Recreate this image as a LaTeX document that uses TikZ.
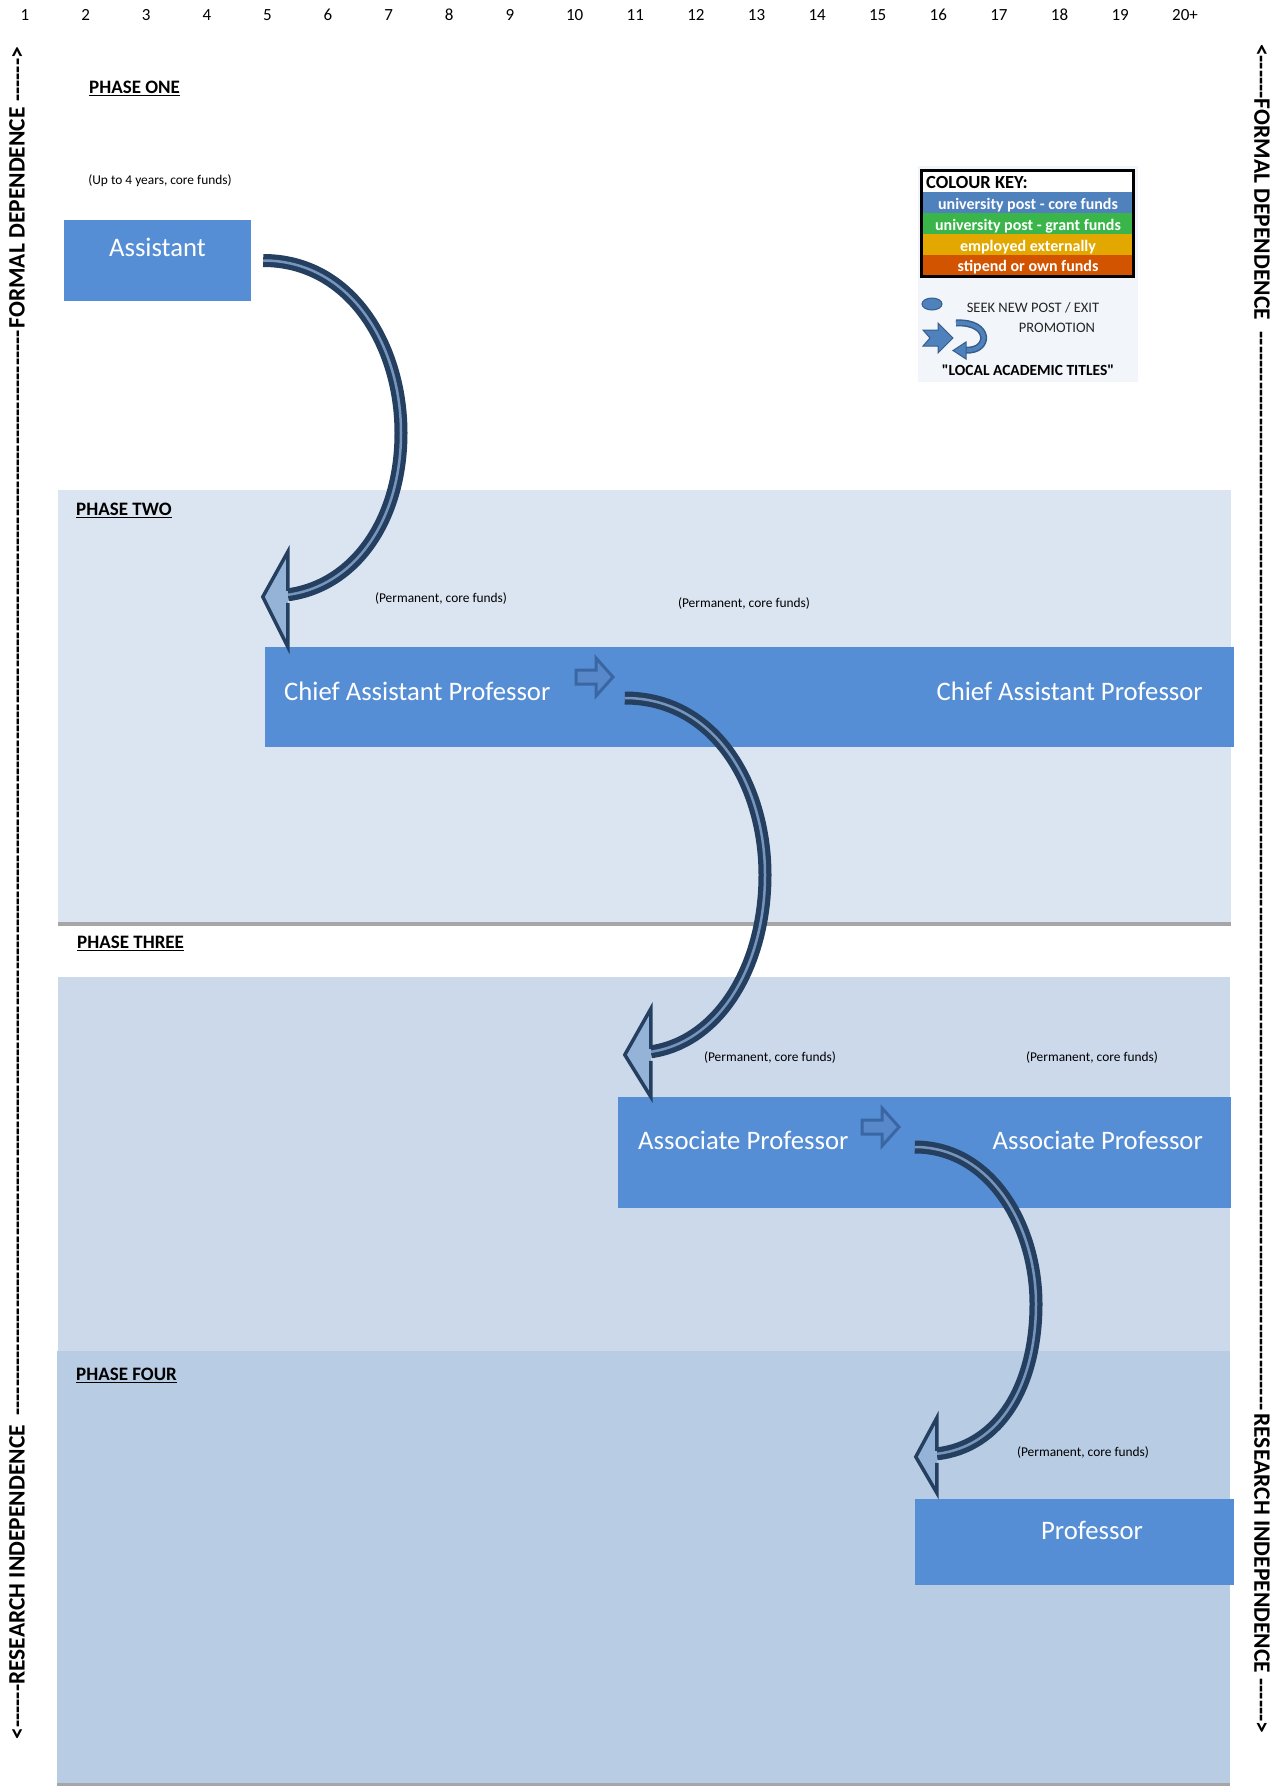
\documentclass[tikz,border=0pt]{standalone}
\usepackage{fontspec}
\setmainfont{Carlito}[Ligatures=TeXOff]
\usetikzlibrary{shapes.geometric}
\definecolor{boxblue}{HTML}{558ED5}
\definecolor{bandtwo}{HTML}{DBE5F1}
\definecolor{bandthree}{HTML}{CBD9EA}
\definecolor{bandfour}{HTML}{B8CCE4}
\definecolor{rulegrey}{HTML}{A6A6A6}
\definecolor{arrowdark}{HTML}{243F60}
\definecolor{arrowlight}{HTML}{7794BB}
\definecolor{headfill}{HTML}{95B3D7}
\definecolor{blockedge}{HTML}{3A67A3}
\definecolor{blockfill}{HTML}{5888CA}
\definecolor{keybg}{HTML}{F2F5FA}
\definecolor{keyblue}{HTML}{4F81BD}
\definecolor{keygreen}{HTML}{3AB54A}
\definecolor{keygold}{HTML}{E2A800}
\definecolor{keyorange}{HTML}{D35400}
\definecolor{icondark}{HTML}{385D8A}
\newcommand\phaseul[1]{\vtop{\hbox{#1}\kern1.4pt\hrule height 1.8pt}}
\newcommand\curvehead[4]{%
  \filldraw[headstyle] ([shift={(#2,-6)}]#1) -- ([shift={(#2,-#3)}]#1) -- (#1)
    -- ([shift={(#2,#4)}]#1) -- ([shift={(#2,6)}]#1);}
\tikzset{
  rolebox/.style={fill=boxblue, draw=none, inner sep=0pt},
  roletext/.style={text=white, font=\fontsize{26.7}{30}\selectfont, inner sep=0pt},
  notetext/.style={font=\fontsize{13.4}{15}\selectfont, inner sep=0pt},
  phasetext/.style={font=\bfseries\fontsize{19}{22}\selectfont, inner sep=0pt, anchor=base west},
  numtext/.style={font=\fontsize{17}{20}\selectfont, inner sep=0pt, anchor=west},
  sidetext/.style={font=\bfseries\fontsize{23.5}{26}\selectfont, inner sep=0pt},
  shaft/.style={draw=arrowlight, line width=2.5pt, preaction={draw=arrowdark, line width=13pt}},
  headstyle/.style={fill=headfill, draw=arrowdark, line width=3.5pt, line join=miter},
  keyrow/.style={minimum width=210pt, minimum height=21.5pt, inner sep=0pt},
  keytext/.style={text=white, font=\bfseries\fontsize{16}{18}\selectfont, inner sep=0pt, anchor=base},
  blockarrow/.pic={\filldraw[fill=blockfill, draw=blockedge, line width=3pt, line join=miter]
    (0,-7) -- (20,-7) -- (20,-19) -- (37,0) -- (20,19) -- (20,7) -- (0,7) -- cycle;}
}
\begin{document}
\begin{tikzpicture}[x=1pt, y=-1pt]
\useasboundingbox (0,0) rectangle (1287,1786);
\fill[white] (0,0) rectangle (1287,1786);
% bands
\fill[bandtwo] (58,490) rectangle (1231,924);
\draw[rulegrey, line width=4pt] (58,924) -- (1231,924);
\fill[bandthree] (58,977) rectangle (1230,1351);
\fill[bandfour] (57,1351) rectangle (1230,1786);
\draw[rulegrey, line width=3pt] (57,1784.5) -- (1230,1784.5);
% year numbers
\foreach \i in {1,...,19} \node[numtext] (n\i) at ({20.5+(\i-1)*60.6},15) {\i};
\node[numtext] (n20) at (1172,15) {20+};
% side labels
\node[sidetext, rotate=90] (leftside) at (17,893)
  {\hbox to 1693pt{<------RESEARCH INDEPENDENCE \leaders\hbox{-}\hfill FORMAL DEPENDENCE ------>}};
\node[sidetext, rotate=-90] (rightside) at (1262,889)
  {\hbox to 1690pt{<------FORMAL DEPENDENCE \leaders\hbox{-}\hfill RESEARCH INDEPENDENCE ------>}};
% phase labels
\node[phasetext] (p1) at (89,93) {\phaseul{PHASE ONE}};
\node[phasetext] (p2) at (76,515) {\phaseul{PHASE TWO}};
\node[phasetext] (p3) at (77,948) {\phaseul{PHASE THREE}};
\node[phasetext] (p4) at (76,1380) {\phaseul{PHASE FOUR}};
% role boxes
\node[rolebox, minimum width=187pt, minimum height=81pt] (asst) at (157.5,260.5) {};
\node[rolebox, minimum width=969pt, minimum height=100pt] (chief) at (749.5,697) {};
\node[rolebox, minimum width=613pt, minimum height=111pt] (assoc) at (924.5,1152.5) {};
\node[rolebox, minimum width=319pt, minimum height=86pt] (prof) at (1074.5,1542) {};
\node[roletext, anchor=base] (tasst) at (157.5,256) {Assistant};
\node[roletext, anchor=base west] (tchief1) at (284,700) {Chief Assistant Professor};
\node[roletext, anchor=base east] (tchief2) at (1203,700) {Chief Assistant Professor};
\node[roletext, anchor=base west] (tassoc1) at (638,1149) {Associate Professor};
\node[roletext, anchor=base east] (tassoc2) at (1203,1149) {Associate Professor};
\node[roletext, anchor=base] (tprof) at (1092,1539) {Professor};
% notes
\node[notetext] (nasst) at (160,181) {(Up to 4 years, core funds)};
\node[notetext] (nchief1) at (441,599) {(Permanent, core funds)};
\node[notetext] (nchief2) at (744,604) {(Permanent, core funds)};
\node[notetext] (nassoc1) at (770,1058) {(Permanent, core funds)};
\node[notetext] (nassoc2) at (1092,1058) {(Permanent, core funds)};
\node[notetext] (nprof) at (1083,1453) {(Permanent, core funds)};
% small block arrows
\pic at (576,677) {blockarrow};
\pic at (862,1127) {blockarrow};
% curved promotion arrows
\coordinate (a1s) at ([shift={(12,0)}]asst.east);
\coordinate (m1) at (401,433);
\coordinate (t1) at ([shift={(-2,-50)}]chief.north west);
\coordinate (e1) at ([shift={(25,-2)}]t1);
\draw[shaft] (a1s) .. controls +(87,0) and +(0,-88) .. (m1) .. controls +(0,87) and +(67,-9) .. (e1);
\curvehead{t1}{25}{45}{50}
\coordinate (a2s) at ([shift={(360,1)}]chief.west);
\coordinate (m2) at (765,875);
\coordinate (t2) at ([shift={(7,-42)}]assoc.north west);
\coordinate (e2) at ([shift={(26,-3)}]t2);
\draw[shaft] (a2s) .. controls +(90,0) and +(0,-90) .. (m2) .. controls +(0,90) and +(69,-10) .. (e2);
\curvehead{t2}{26}{46}{42}
\coordinate (a3s) at ([shift={(297,-5.5)}]assoc.west);
\coordinate (m3) at (1036,1304);
\coordinate (t3) at ([shift={(1,-42)}]prof.north west);
\coordinate (e3) at ([shift={(21,-3)}]t3);
\draw[shaft] (a3s) .. controls +(75,0) and +(0,-79) .. (m3) .. controls +(0,81) and +(63,-7) .. (e3);
\curvehead{t3}{21}{39}{36}
% colour key
\fill[keybg] (918,166) rectangle (1138,382);
\node[keyrow, fill=keyblue] (k1) at (1027.5,202.5) {};
\node[keyrow, fill=keygreen] (k2) at (1027.5,223.5) {};
\node[keyrow, fill=keygold] (k3) at (1027.5,245) {};
\node[keyrow, fill=keyorange] (k4) at (1027.5,265.5) {};
\node[keytext] (k1t) at (1028,209) {university post - core funds};
\node[keytext] (k2t) at (1028,230) {university post - grant funds};
\node[keytext] (k3t) at (1028,251.5) {employed externally};
\node[keytext] (k4t) at (1028,271) {stipend or own funds};
\fill[white] (922,172) rectangle (1133,192);
\node[font=\bfseries\fontsize{18.5}{20}\selectfont, inner sep=0pt, anchor=base west] (khead) at (926,188) {COLOUR KEY:};
\draw[black, line width=3pt] (921.5,170.5) rectangle (1133.5,276.5);
\node[ellipse, fill=keyblue, draw=icondark, line width=1pt, minimum width=20pt, minimum height=12pt, inner sep=0pt] (kdot) at (932,304) {};
\node[font=\fontsize{14.5}{16}\selectfont, inner sep=0pt, text=black!85] (kseek) at (1033,308) {SEEK NEW POST / EXIT};
\node[font=\fontsize{14.5}{16}\selectfont, inner sep=0pt, text=black!85] (kprom) at (1057,328) {PROMOTION};
\filldraw[fill=keyblue, draw=icondark, line width=1pt, line join=miter]
  (923,330) -- (938,330) -- (938,323) -- (953,338) -- (938,353) -- (938,346) -- (923,346) -- (930,338) -- cycle;
\draw[keyblue, line width=4pt, preaction={draw=icondark, line width=7pt}]
  (956,323) .. controls (992,321) and (990,352) .. (966,350);
\filldraw[fill=keyblue, draw=icondark, line width=1pt, line join=miter]
  (966,342) -- (953,350.5) -- (966,359) -- cycle;
\node[font=\bfseries\fontsize{15.5}{17}\selectfont, inner sep=0pt] (klocal) at (1028,370) {"LOCAL ACADEMIC TITLES"};
\end{tikzpicture}
\end{document}
